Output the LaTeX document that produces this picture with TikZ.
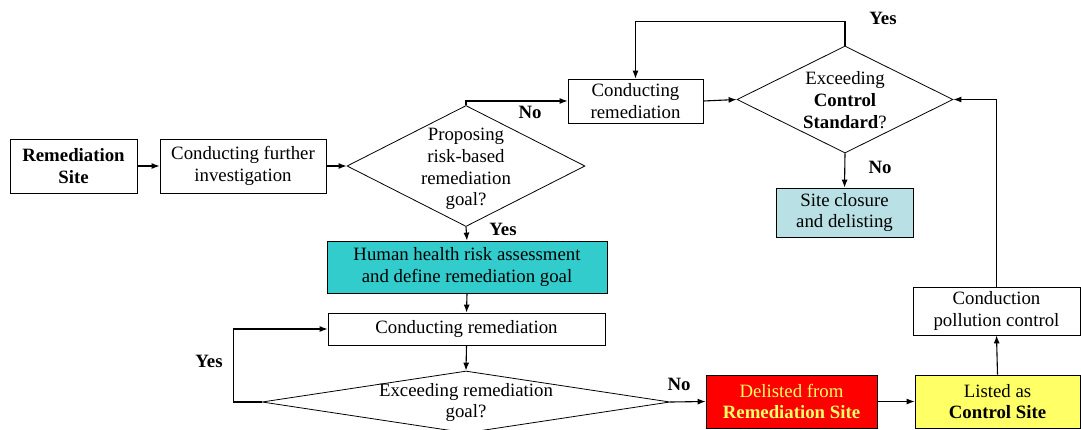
\documentclass[tikz,border=0pt]{standalone}
\usepackage{fontspec}
\setmainfont{Liberation Serif}
\usetikzlibrary{shapes.geometric,arrows.meta}
\definecolor{teal}{HTML}{33CCCC}
\definecolor{paleteal}{HTML}{B9E0E4}
\definecolor{brightred}{HTML}{FF0000}
\definecolor{lemon}{HTML}{FFFF66}
\newcommand{\flowfont}{\fontsize{18.8}{21.7}\selectfont}
\begin{document}
\begin{tikzpicture}[x=1pt,y=-1pt,
  box/.style={draw, line width=0.8pt, inner sep=0pt, align=center, font=\flowfont},
  decision/.style={draw, diamond, line width=0.8pt, inner sep=0pt},
  dtext/.style={align=center, font=\flowfont, inner sep=0pt},
  tag/.style={font=\flowfont\bfseries, inner sep=0pt},
  flow/.style={line width=1.1pt, -{Latex[length=8pt,width=6pt]}},
  link/.style={line width=1.1pt}]
\useasboundingbox (0,0) rectangle (1081,429);

% process boxes
\node[box, minimum width=127pt, minimum height=54pt] (rs) at (73.5,166) {\textbf{Remediation}\\\textbf{Site}};
\node[box, minimum width=166pt, minimum height=54pt] (inv) at (243,166) {Conducting further\\investigation};
\node[box, minimum width=135pt, minimum height=44pt] (cr1) at (635.5,101) {Conducting\\remediation};
\node[box, fill=paleteal, minimum width=137pt, minimum height=49pt] (sc) at (844.5,212.5) {Site closure\\and delisting};
\node[box, fill=teal, minimum width=280pt, minimum height=52pt] (hh) at (467,267) {Human health risk assessment\\and define remediation goal};
\node[box, minimum width=277pt, minimum height=32pt] (cr2) at (466.5,329) {Conducting remediation};
\node[box, fill=brightred, text=lemon, minimum width=171pt, minimum height=53pt] (del) at (791.5,401.5) {Delisted from\\\textbf{Remediation Site}};
\node[box, fill=lemon, minimum width=165pt, minimum height=53pt] (ls) at (997.5,401.5) {Listed as\\\textbf{Control Site}};
\node[box, minimum width=167pt, minimum height=48pt] (pc) at (996.5,311) {Conduction\\pollution control};

% decisions
\node[decision, minimum width=238pt, minimum height=121pt] (d1) at (466,166) {};
\node[dtext] (d1t) at (466,169) {Proposing\\risk-based\\remediation\\goal?};
\node[decision, minimum width=216pt, minimum height=107pt] (d2) at (845,99.5) {};
\node[dtext] (d2t) at (845,100) {Exceeding\\\textbf{Control}\\\textbf{Standard}?};
\node[decision, minimum width=408pt, minimum height=62pt] (d3) at (466,402) {};
\node[dtext] (d3t) at (466,402.5) {Exceeding remediation\\goal?};

% connectors
\draw[flow] (rs.east) -- (inv.west);
\draw[flow] (inv.east) -- (d1.west);
\draw[flow] (d1.north) |- (cr1.west);
\draw[flow] (cr1.east) -- (d2.west);
\draw[flow] (d2.north) -- ++(0,-24) -| (cr1.north);
\draw[flow] (d2.south) -- (sc.north);
\draw[flow] (d1.south) -- (hh.north);
\draw[flow] (hh.south) -- (cr2.north);
\draw[flow] (cr2.south) -- (d3.north);
\draw[flow] (d3.west) -- ++(-28,0) |- (cr2.west);
\draw[flow] (d3.east) -- (del.west);
\draw[flow] (del.east) -- (ls.west);
\draw[flow] (ls.north) -- (pc.south);
\draw[flow] (pc.north) |- (d2.east);

% branch labels
\node[tag] (y1) at (883,18) {Yes};
\node[tag] (n1) at (530,112) {No};
\node[tag] (n2) at (880,167) {No};
\node[tag] (y2) at (503,229) {Yes};
\node[tag] (y3) at (209,361) {Yes};
\node[tag] (n3) at (679,384) {No};
\end{tikzpicture}
\end{document}
